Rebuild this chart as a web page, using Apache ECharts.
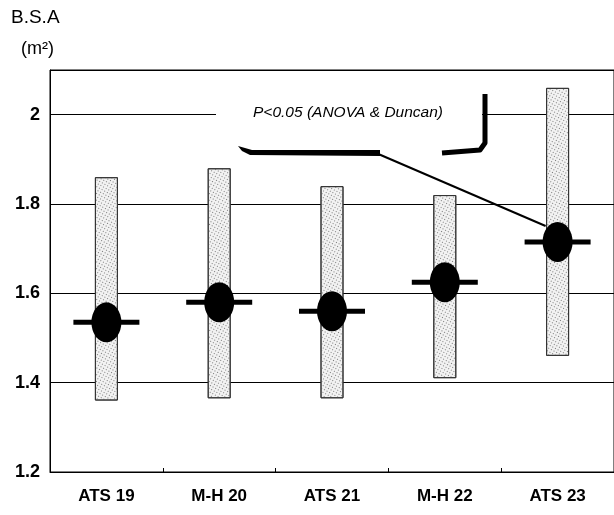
<!DOCTYPE html>
<html><head><meta charset="utf-8">
<script src="https://cdn.jsdelivr.net/npm/echarts@6/dist/echarts.min.js"></script>
<style>html,body{margin:0;padding:0;background:#fff}#c{width:614px;height:515px}</style>
</head><body><div id="c"></div>
<script>
// ---- data ----
const categories = ['ATS 19', 'M-H 20', 'ATS 21', 'M-H 22', 'ATS 23'];
const rangeMin = [1.36, 1.365, 1.365, 1.41, 1.46];
const rangeMax = [1.86, 1.88, 1.84, 1.82, 2.06];
const means = [1.535, 1.58, 1.56, 1.625, 1.715];
const yTickLabels = [1.2, 1.4, 1.6, 1.8, 2.0];
const yTitle = 'B.S.A';
const yUnit = '(m\u00B2)';
const noteText = 'P<0.05 (ANOVA & Duncan)';
const noteTarget = 'ATS 23';

const chart = echarts.init(document.getElementById('c'), null, {renderer: 'canvas'});
const FONT = '"Liberation Sans", Arial, sans-serif';

const option = {
  animation: false,
  backgroundColor: '#fff',
  grid: {left: 50, right: -3, top: 70, bottom: 43, show: true, borderColor: '#000', borderWidth: 1, backgroundColor: 'transparent'},
  xAxis: {
    type: 'category', data: categories,
    axisLine: {lineStyle: {color: '#000', width: 1}},
    axisTick: {show: true, inside: true, length: 4, lineStyle: {color: '#000'}},
    axisLabel: {color: '#000', fontWeight: 'bold', fontSize: 17, fontFamily: FONT, margin: 16},
    splitLine: {show: false}
  },
  yAxis: {
    type: 'value', min: 1.2, max: 2.1, interval: 0.2,
    axisLine: {show: true, lineStyle: {color: '#000', width: 1}},
    axisTick: {show: false},
    axisLabel: {
      color: '#000', fontWeight: 'bold', fontSize: 18, fontFamily: FONT, margin: 10,
      formatter: v => {
        const r = parseFloat(v.toFixed(2));
        return yTickLabels.some(t => Math.abs(t - r) < 1e-6) ? String(r) : '';
      }
    },
    splitLine: {show: true, lineStyle: {color: '#000', width: 1}}
  },
  series: [
    {
      type: 'bar', stack: 'range', barWidth: 23, silent: true,
      data: rangeMin,
      itemStyle: {color: 'transparent'}
    },
    {
      type: 'bar', stack: 'range', barWidth: 23, silent: true,
      data: rangeMax.map((m, i) => +(m - rangeMin[i]).toFixed(4)),
      itemStyle: {
        color: '#f2f2f2', borderColor: '#333', borderWidth: 1,
        decal: {symbol: 'rect', symbolSize: 1, dashArrayX: [1, 2], dashArrayY: [1, 2], rotation: 0.5, color: '#7a7a7a'}
      }
    },
    {
      type: 'scatter', symbol: 'rect', symbolSize: [66, 5], z: 5,
      data: means.map((m, i) => [categories[i], m]),
      itemStyle: {color: '#000', opacity: 1}
    },
    {
      type: 'scatter', symbol: 'circle', symbolSize: [30, 40], z: 6,
      data: means.map((m, i) => [categories[i], m]),
      itemStyle: {color: '#000', opacity: 1}
    }
  ]
};
chart.setOption(option);

const idx = categories.indexOf(noteTarget);
const tgt = chart.convertToPixel({gridIndex: 0}, [idx, means[idx]]);

chart.setOption({
  graphic: [
    {type: 'text', left: 11, top: 8, style: {text: yTitle, font: '19px ' + FONT, fill: '#000'}},
    {type: 'text', left: 21, top: 40, style: {text: yUnit, font: '18px ' + FONT, fill: '#000'}},
    // white callout area masking gridline
    {type: 'rect', shape: {x: 216, y: 92, width: 266, height: 54}, style: {fill: '#fff'}, z: 10},
    {type: 'text', x: 348, y: 113, style: {text: noteText, font: 'italic 15.5px ' + FONT, fill: '#000', align: 'center', verticalAlign: 'middle'}, z: 11},
    // bottom thick stroke
    {type: 'polygon', shape: {points: [[238, 146], [252, 150], [380, 150], [380, 156], [250, 155], [242, 151]]}, style: {fill: '#000'}, z: 11},
    // right bracket
    {type: 'polyline', shape: {points: [[485, 94], [485, 143], [480, 150], [442, 153]]}, style: {stroke: '#000', lineWidth: 5, lineJoin: 'round', fill: null}, z: 11},
    // connector to target mean
    {type: 'line', shape: {x1: 376, y1: 153, x2: tgt[0] - 12, y2: tgt[1] - 16}, style: {stroke: '#000', lineWidth: 2}, z: 11}
  ]
});
</script>
</body></html>
